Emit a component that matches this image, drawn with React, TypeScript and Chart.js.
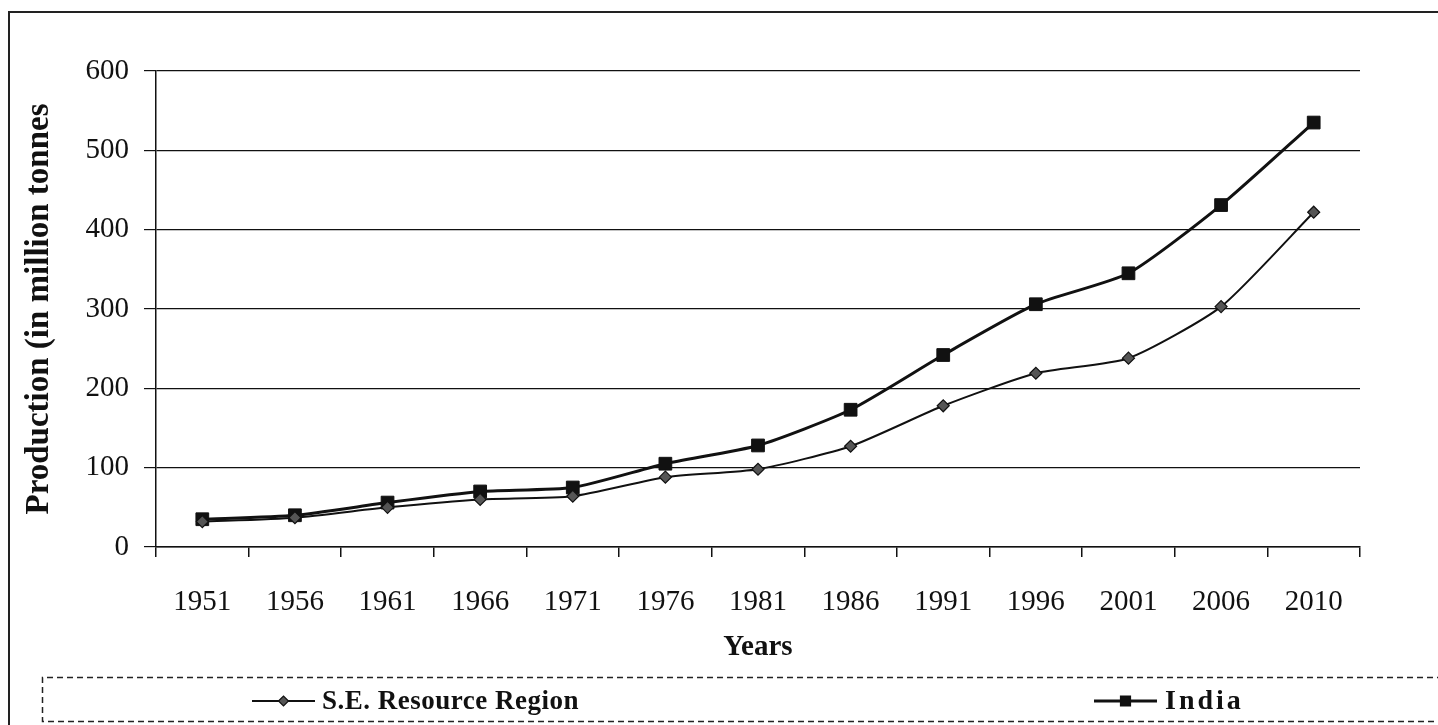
import React, { useEffect, useRef } from 'react';
import { Chart, registerables } from 'chart.js';

Chart.register(...registerables);

// ---- data ----
const years = ['1951', '1956', '1961', '1966', '1971', '1976', '1981', '1986', '1991', '1996', '2001', '2006', '2010'];
const seRegion = [32, 37, 50, 60, 64, 88, 98, 127, 178, 219, 238, 303, 422];
const india = [35, 40, 56, 70, 75, 105, 128, 173, 242, 306, 345, 431, 535];
const seriesLabels = ['S.E. Resource Region', 'India'];
const yMin = 0;
const yMax = 600;
const yStep = 100;
const xTitle = 'Years';
const yTitle = 'Production (in million tonnes';

// ---- layout / style ----
const W = 1438;
const H = 725;
const FONT = "'Liberation Serif', 'Times New Roman', serif";
const INK = '#111111';

const legendSlots = [
  { lineStart: 252, lineEnd: 315, textX: 322, spacing: '0.5px', size: 27 },
  { lineStart: 1094, lineEnd: 1157, textX: 1165, spacing: '3px', size: 28 },
];

const framePlugin = {
  id: 'frame',
  beforeDraw(chart: any) {
    const ctx = chart.ctx;
    ctx.save();
    ctx.fillStyle = '#ffffff';
    ctx.fillRect(0, 0, chart.width, chart.height);
    ctx.strokeStyle = '#222222';
    ctx.lineWidth = 2;
    ctx.beginPath();
    ctx.moveTo(9, H + 5);
    ctx.lineTo(9, 12);
    ctx.lineTo(W + 5, 12);
    ctx.stroke();
    ctx.restore();
  },
};

const legendPlugin = {
  id: 'dashedLegend',
  afterDraw(chart: any) {
    const ctx = chart.ctx;
    ctx.save();
    ctx.strokeStyle = '#222222';
    ctx.lineWidth = 1.5;
    ctx.setLineDash([6, 4]);
    ctx.beginPath();
    ctx.moveTo(W + 5, 677.5);
    ctx.lineTo(42.5, 677.5);
    ctx.lineTo(42.5, 721.5);
    ctx.lineTo(W + 5, 721.5);
    ctx.stroke();
    ctx.setLineDash([]);

    const y = 701;
    chart.data.datasets.forEach((ds: any, i: number) => {
      const slot = legendSlots[i];
      if (!slot) return;
      ctx.strokeStyle = INK;
      ctx.lineWidth = ds.borderWidth;
      ctx.beginPath();
      ctx.moveTo(slot.lineStart, y);
      ctx.lineTo(slot.lineEnd, y);
      ctx.stroke();
      const cx = (slot.lineStart + slot.lineEnd) / 2;
      ctx.fillStyle = ds.pointBackgroundColor;
      ctx.strokeStyle = ds.pointBorderColor;
      ctx.lineWidth = 1.2;
      ctx.beginPath();
      if (ds.pointStyle === 'rect') {
        const s = 5;
        ctx.rect(cx - s, y - s, 2 * s, 2 * s);
      } else {
        const r = 5;
        ctx.moveTo(cx - r, y);
        ctx.lineTo(cx, y - r);
        ctx.lineTo(cx + r, y);
        ctx.lineTo(cx, y + r);
        ctx.closePath();
      }
      ctx.fill();
      ctx.stroke();

      ctx.fillStyle = INK;
      ctx.font = `bold ${slot.size}px ${FONT}`;
      (ctx as any).letterSpacing = slot.spacing;
      ctx.textAlign = 'left';
      ctx.textBaseline = 'middle';
      ctx.fillText(ds.label, slot.textX, y + 1);
      (ctx as any).letterSpacing = '0px';
    });
    ctx.restore();
  },
};

export default function App() {
  const canvasRef = useRef<HTMLCanvasElement | null>(null);

  useEffect(() => {
    document.body.style.margin = '0';
    const canvas = canvasRef.current;
    if (!canvas) return;
    const chart = new Chart(canvas, {
      type: 'line',
      data: {
        labels: years,
        datasets: [
          {
            label: seriesLabels[0],
            data: seRegion,
            borderColor: INK,
            borderWidth: 2,
            pointStyle: 'rectRot',
            pointRadius: 6,
            pointBackgroundColor: '#555555',
            pointBorderColor: INK,
            pointBorderWidth: 1.2,
            tension: 0.2,
            fill: false,
          },
          {
            label: seriesLabels[1],
            data: india,
            borderColor: INK,
            borderWidth: 3,
            pointStyle: 'rect',
            pointRadius: 9,
            pointBackgroundColor: INK,
            pointBorderColor: INK,
            pointBorderWidth: 1,
            tension: 0.2,
            fill: false,
          },
        ],
      },
      options: {
        responsive: false,
        animation: false,
        devicePixelRatio: 1,
        layout: { padding: { left: 0, right: 78, top: 71, bottom: 0 } },
        plugins: {
          legend: { display: false },
          tooltip: { enabled: false },
        },
        scales: {
          x: {
            type: 'category',
            offset: true,
            grid: {
              display: true,
              offset: true,
              drawOnChartArea: false,
              drawTicks: true,
              tickLength: 10,
              color: INK,
              lineWidth: 1.5,
            },
            border: { display: true, color: INK, width: 1.5 },
            ticks: {
              font: { family: FONT, size: 29 },
              color: INK,
              padding: 28,
              maxRotation: 0,
              autoSkip: false,
            },
            title: {
              display: true,
              text: xTitle,
              color: INK,
              font: { family: FONT, size: 29, weight: 'bold' },
              padding: { top: 0, bottom: 60 },
            },
            afterFit: (s: any) => {
              s.height = 178;
            },
          },
          y: {
            min: yMin,
            max: yMax,
            grid: {
              color: INK,
              lineWidth: 1.2,
              tickLength: 12,
            },
            border: { display: true, color: INK, width: 1.5 },
            ticks: {
              stepSize: yStep,
              font: { family: FONT, size: 29 },
              color: INK,
              padding: 15,
            },
            title: {
              display: true,
              text: yTitle,
              color: INK,
              font: { family: FONT, size: 33, weight: 'bold' },
              padding: { top: 20, bottom: 0 },
            },
            afterFit: (s: any) => {
              s.width = 156;
            },
          },
        },
      } as any,
      plugins: [framePlugin, legendPlugin],
    });
    return () => chart.destroy();
  }, []);

  return (
    <div style={{ position: 'fixed', left: 0, top: 0, width: W, height: H, background: '#fff' }}>
      <canvas ref={canvasRef} width={W} height={H} style={{ display: 'block', width: W, height: H }} />
    </div>
  );
}
